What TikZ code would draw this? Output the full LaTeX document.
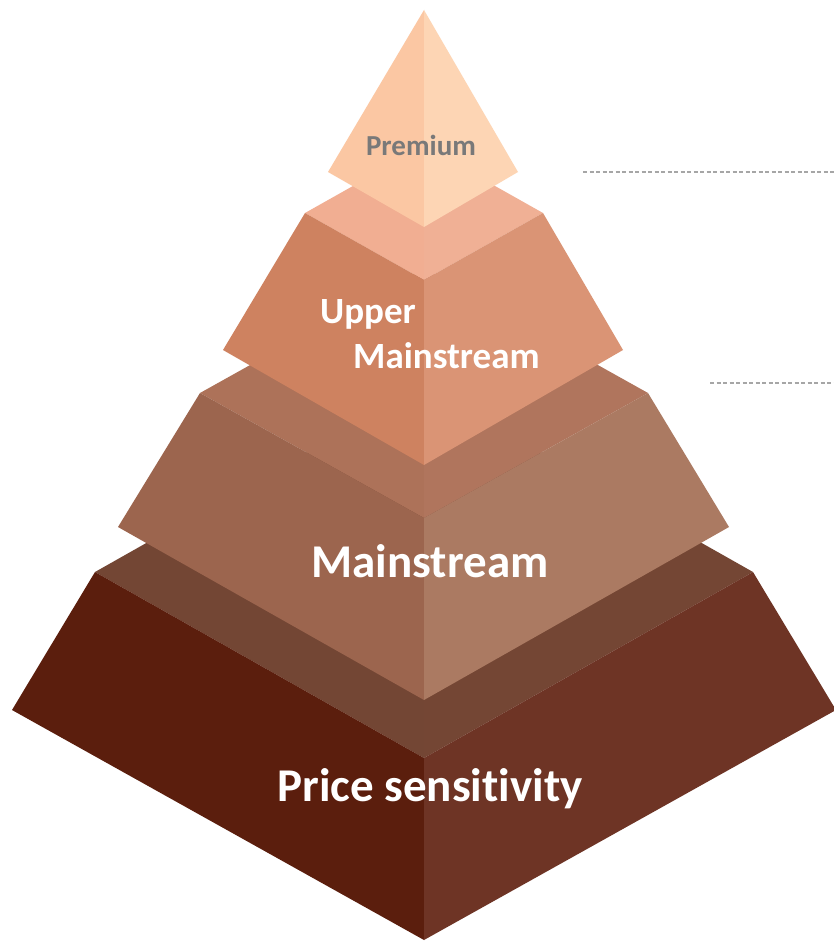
\documentclass[tikz,border=0pt]{standalone}
\usepackage{fontspec}
\setmainfont{Carlito}[Ligatures={NoCommon,NoRare}]
\definecolor{premL}{HTML}{FBC7A3}
\definecolor{premR}{HTML}{FDD5B4}
\definecolor{tTwoTopL}{HTML}{F1AE92}
\definecolor{tTwoTopR}{HTML}{F0B095}
\definecolor{tTwoL}{HTML}{CE8260}
\definecolor{tTwoR}{HTML}{DA9475}
\definecolor{tThrTopL}{HTML}{AD7259}
\definecolor{tThrTopR}{HTML}{B0755D}
\definecolor{tThrL}{HTML}{9C654E}
\definecolor{tThrR}{HTML}{AB7A62}
\definecolor{tFouTopL}{HTML}{734634}
\definecolor{tFouTopR}{HTML}{744634}
\definecolor{tFouL}{HTML}{5B1E0D}
\definecolor{tFouR}{HTML}{6E3425}
\definecolor{dashgray}{HTML}{A6A6A6}
\begin{document}
\begin{tikzpicture}[x=1pt,y=-1pt,
  guide/.style={draw=dashgray,line width=1.1pt,dash pattern=on 4pt off 2.5pt},
  lbl/.style={font=\bfseries,text=white,inner sep=0pt}]
\useasboundingbox (0,0) rectangle (834,942);
\fill[white] (0,0) rectangle (834,942);
% tier 4 (price sensitivity)
\fill[tFouTopL] (424,386) -- (95,572) -- (424,758) -- cycle;
\fill[tFouTopR] (424,386) -- (424,758) -- (753,572) -- cycle;
\fill[tFouL] (95,572) -- (424,758) -- (424,940) -- (12,710) -- cycle;
\fill[tFouR] (424,758) -- (753,572) -- (836,710) -- (424,940) -- cycle;
% tier 3 (mainstream)
\fill[tThrTopL] (424,268) -- (200,393) -- (424,518) -- cycle;
\fill[tThrTopR] (424,268) -- (424,518) -- (648,393) -- cycle;
\fill[tThrL] (200,393) -- (424,518) -- (424,700) -- (118,527) -- cycle;
\fill[tThrR] (424,518) -- (648,393) -- (729,527) -- (424,700) -- cycle;
% tier 2 (upper mainstream)
\fill[tTwoTopL] (424,146) -- (305,213) -- (424,280) -- cycle;
\fill[tTwoTopR] (424,146) -- (424,280) -- (543,213) -- cycle;
\fill[tTwoL] (305,213) -- (424,280) -- (424,465) -- (223,350) -- cycle;
\fill[tTwoR] (424,280) -- (543,213) -- (623,350) -- (424,465) -- cycle;
% premium
\fill[premL] (424,10) -- (328,172) -- (424,227) -- cycle;
\fill[premR] (424,10) -- (424,227) -- (518,172) -- cycle;
% labels
\node[font=\fontsize{29}{32}\selectfont\bfseries,text=gray!95!black,inner sep=0pt,anchor=base] (prem) at (421,155) {Premium};
\node[lbl,font=\fontsize{37}{40}\selectfont\bfseries,anchor=base west] (upA) at (320,323) {Upper};
\node[lbl,font=\fontsize{37}{40}\selectfont\bfseries,anchor=base west] (upB) at (353,368) {Mainstream};
\node[lbl,font=\fontsize{47}{50}\selectfont\bfseries,anchor=base] (main) at (430,577) {Mainstream};
\node[lbl,font=\fontsize{47}{50}\selectfont\bfseries,anchor=base] (price) at (430,801) {Price sensitivity};
% guide lines
\coordinate (gA1) at (583,172);
\coordinate (gA2) at (834,172);
\coordinate (gB1) at (710,383);
\coordinate (gB2) at (834,383);
\draw[guide] (gA1) -- (gA2);
\draw[guide] (gB1) -- (gB2);
\end{tikzpicture}
\end{document}
